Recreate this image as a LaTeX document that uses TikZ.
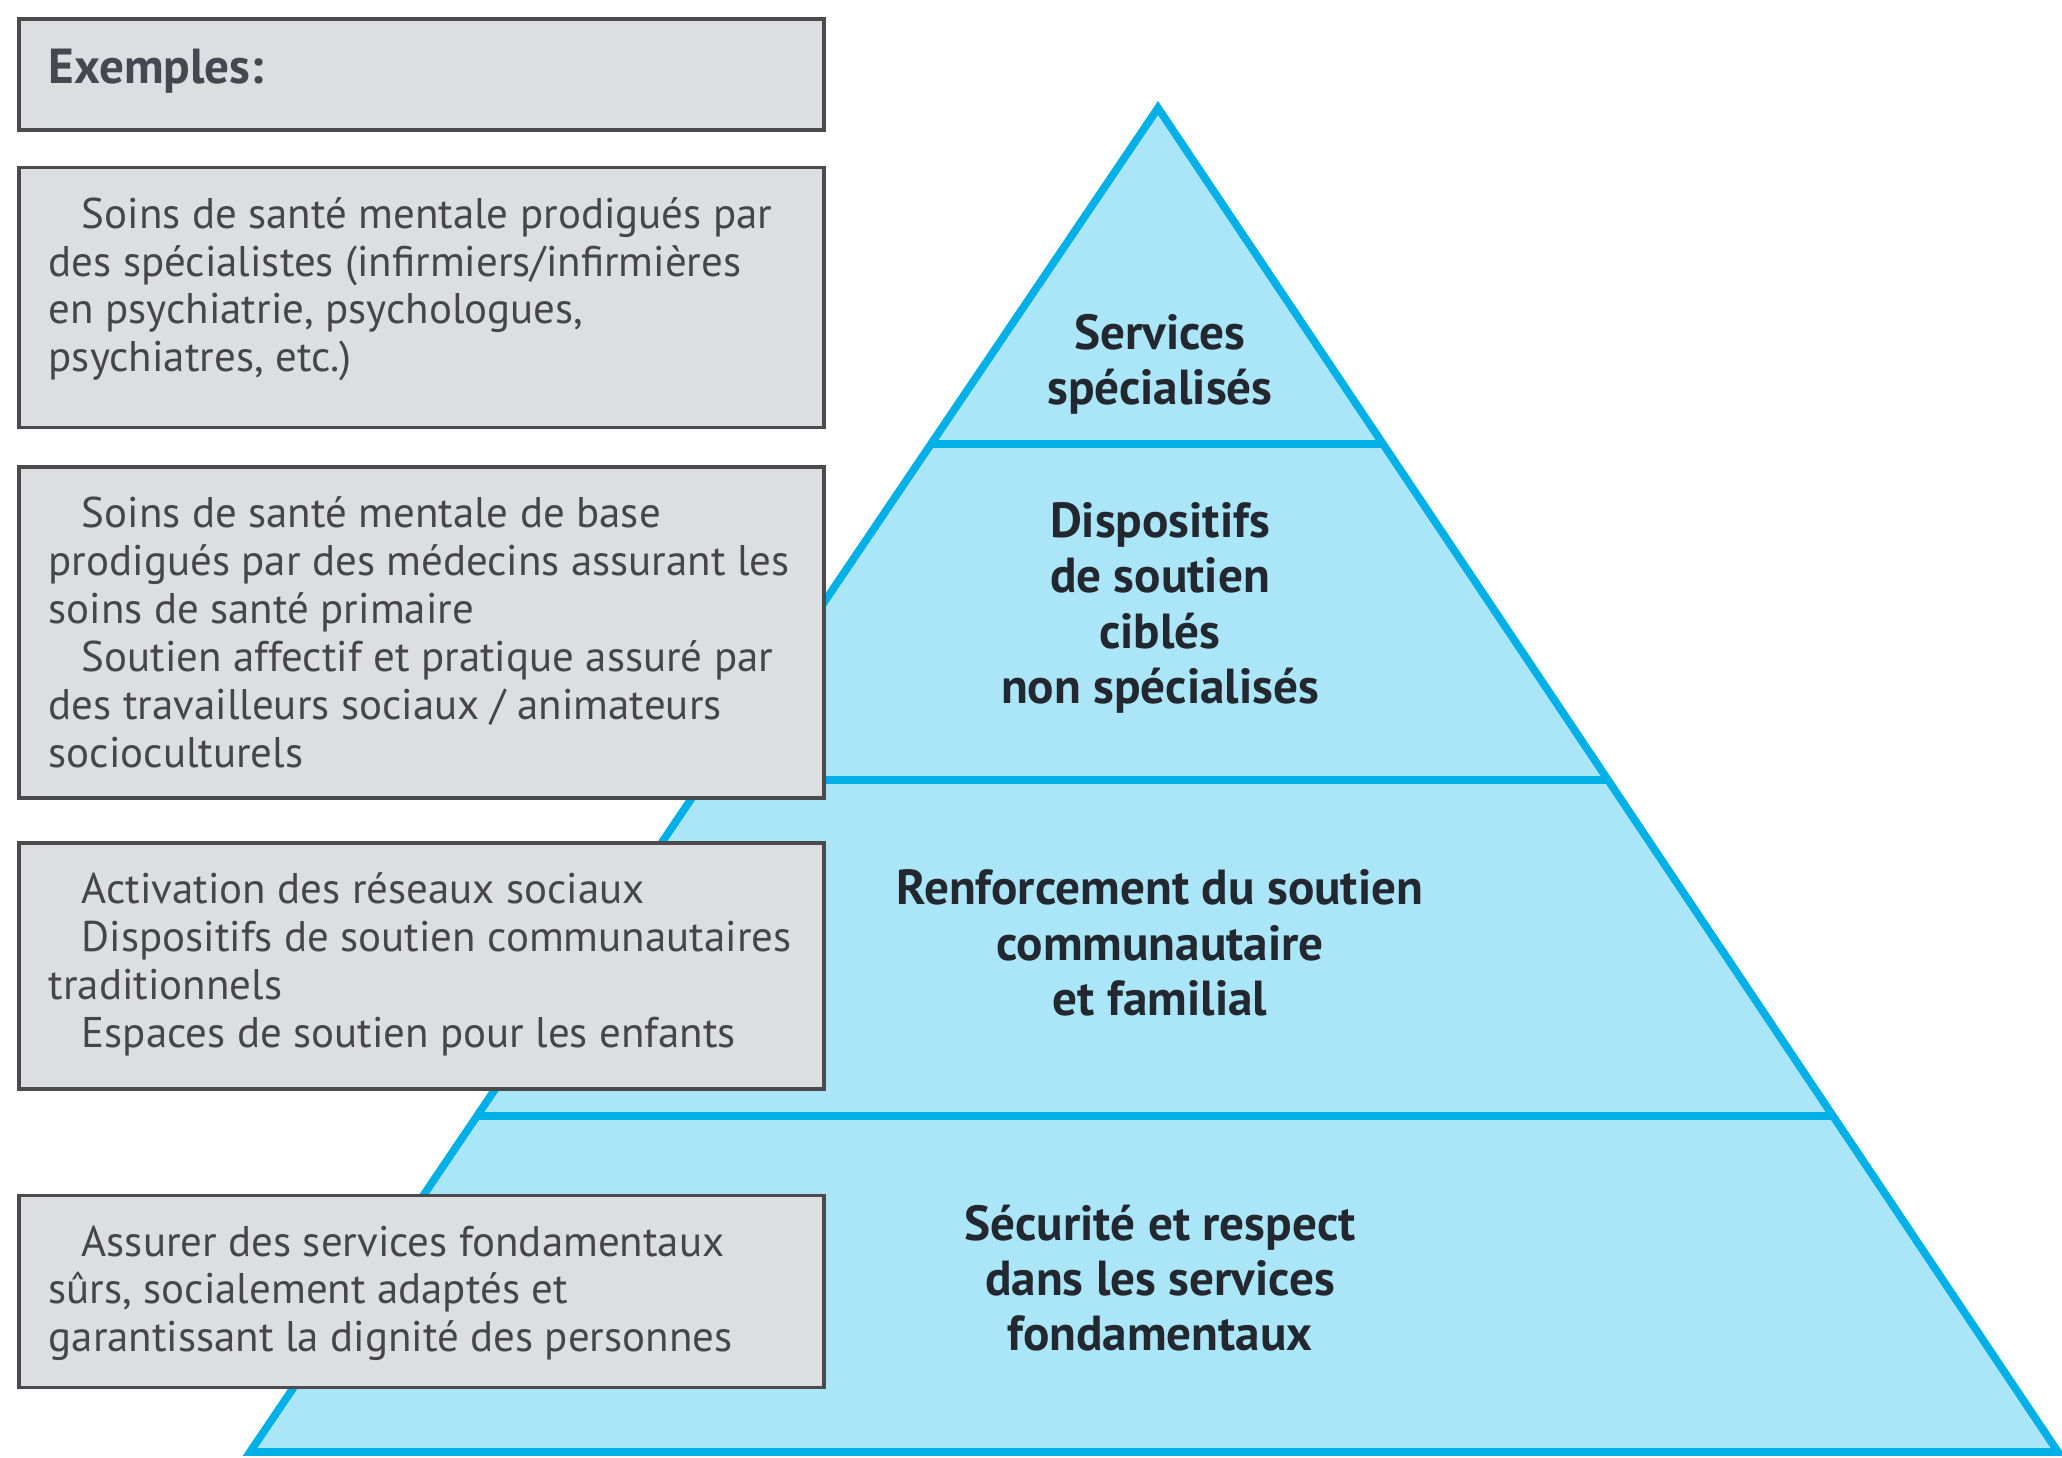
\documentclass[tikz,border=0pt]{standalone}
\usepackage{fontspec}
\setmainfont{PT Sans}
\usepackage{xcolor}
\usepackage{tikz}
\usetikzlibrary{positioning, calc}
\definecolor{pyr_line}{RGB}{0, 176, 230}
\definecolor{pyr_fill}{RGB}{170, 230, 248}
\definecolor{ex_fill}{RGB}{221, 222, 226}
\definecolor{ex_line}{RGB}{75, 75, 78}
\definecolor{ex_text}{RGB}{70, 70, 74}
\definecolor{pyr_text}{RGB}{35, 40, 48}
\newcommand{\ind}{\hspace*{0.33cm}}
\newcommand{\exbody}[2]{\parbox[c][#1][t]{7.45cm}{\vspace*{0.05cm}#2}}
\tikzstyle{exbox} = [rectangle, draw=ex_line, line width=1pt, fill=ex_fill, inner xsep=0.3cm, inner ysep=0.25cm, align=left, text=ex_text, font=\fontsize{12.2}{13.6}\selectfont]
\tikzstyle{level} = [align=center, text=pyr_text, font=\fontsize{14}{15.7}\selectfont\bfseries]
\tikzstyle{pyr} = [draw=pyr_line, line width=2.2pt, fill=pyr_fill]

\begin{document}
\begin{tikzpicture}[x=0.01cm, y=-0.01cm]
\useasboundingbox (0,0) rectangle (2062,1458);

% Pyramid
\coordinate (apex) at (1158,108);
\coordinate (bl) at (250,1452);
\coordinate (br) at (2058,1452);
\draw[pyr] (apex) -- (bl) -- (br) -- cycle;
\foreach \t in {0.25,0.5,0.75}
  \draw[pyr_line, line width=2.2pt] ($(apex)!\t!(bl)$) -- ($(apex)!\t!(br)$);

% Levels
\node[level] (lvl1) at (1160,364) {Services\\spécialisés};
\node[level] (lvl2) at (1160,608) {Dispositifs\\de soutien\\ciblés\\non spécialisés};
\node[level] (lvl3) at (1160,943) {Renforcement du soutien\\communautaire\\et familial};
\node[level] (lvl4) at (1160,1278) {Sécurité et respect\\dans les services\\fondamentaux};

% Examples
\node[exbox, anchor=north west] (ex1) at (17,17) {\exbody{0.61cm}{\fontsize{14}{15}\selectfont\bfseries\color{pyr_text!85!white}Exemples:}};
\node[exbox, below=0.34cm of ex1] (ex2) {\exbody{2.1cm}{\ind Soins de santé mentale prodigués par\\des spécialistes (infirmiers/infirmières\\en psychiatrie, psychologues,\\psychiatres, etc.)}};
\node[exbox, below=0.36cm of ex2] (ex3) {\exbody{2.81cm}{\ind Soins de santé mentale de base\\prodigués par des médecins assurant les\\soins de santé primaire\\\ind Soutien affectif et pratique assuré par\\des travailleurs sociaux / animateurs\\socioculturels}};
\node[exbox, below=0.41cm of ex3] (ex4) {\exbody{1.96cm}{\ind Activation des réseaux sociaux\\\ind Dispositifs de soutien communautaires\\traditionnels\\\ind Espaces de soutien pour les enfants}};
\node[exbox, below=1.03cm of ex4] (ex5) {\exbody{1.42cm}{\ind Assurer des services fondamentaux\\sûrs, socialement adaptés et\\garantissant la dignité des personnes}};

\end{tikzpicture}
\end{document}
